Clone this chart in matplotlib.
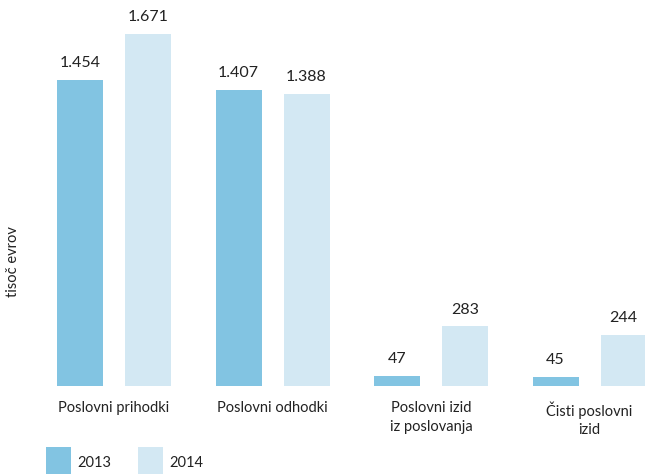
import numpy as np
import matplotlib.pyplot as plt
from matplotlib.patches import Rectangle

categories = ["Poslovni prihodki", "Poslovni odhodki", "Poslovni izid\niz poslovanja", "Čisti poslovni\nizid"]
years = ["2013", "2014"]
values_2013 = [1454, 1407, 47, 45]
values_2014 = [1671, 1388, 283, 244]
labels_2013 = ["1.454", "1.407", "47", "45"]
labels_2014 = ["1.671", "1.388", "283", "244"]

colors = ["#82C4E2", "#D3E8F3"]
text_col = "#222222"

plt.rcParams['font.family'] = ['Lato', 'DejaVu Sans']

W, H = 645, 474
fig = plt.figure(figsize=(W / 100, H / 100), dpi=100)

# axes spans from the baseline up to the top edge, full width
base_px = 386
ax = fig.add_axes([0, (H - base_px) / H, 1, base_px / H])
spacing = 158.5  # px between group centers
ax.set_xlim(-114 / spacing, (W - 114) / spacing)
ax.set_ylim(0, 1671 * base_px / 352)
ax.axis("off")

x = np.arange(len(categories))
width = 46 / spacing
off = 34 / spacing

bars1 = ax.bar(x - off, values_2013, width, color=colors[0])
bars2 = ax.bar(x + off, values_2014, width, color=colors[1])

for bars, labs in [(bars1, labels_2013), (bars2, labels_2014)]:
    for b, lab in zip(bars, labs):
        ax.annotate(lab, (b.get_x() + b.get_width() / 2, b.get_height()),
                    xytext=(0, 7), textcoords="offset points",
                    ha="center", va="bottom", fontsize=11.5, color=text_col)

# category labels below the baseline
for xi, cat in zip(x, categories):
    ax.annotate(cat, (xi, 0), xytext=(0, -11), textcoords="offset points",
                ha="center", va="top", fontsize=10.5, color=text_col,
                linespacing=1.4)

fig.text(13 / W, 1 - 262 / H, "tisoč evrov", rotation=90, ha="center", va="center",
         fontsize=10.5, color=text_col)

# legend swatches
for i, (yr, c) in enumerate(zip(years, colors)):
    x0 = 46 + i * 92
    fig.add_artist(Rectangle((x0 / W, 0), 25 / W, 27 / H, transform=fig.transFigure,
                             color=c, lw=0))
    fig.text((x0 + 31) / W, 1 - 463 / H, yr, ha="left", va="center",
             fontsize=10.5, color=text_col)

fig.savefig("out.png", dpi=100)
